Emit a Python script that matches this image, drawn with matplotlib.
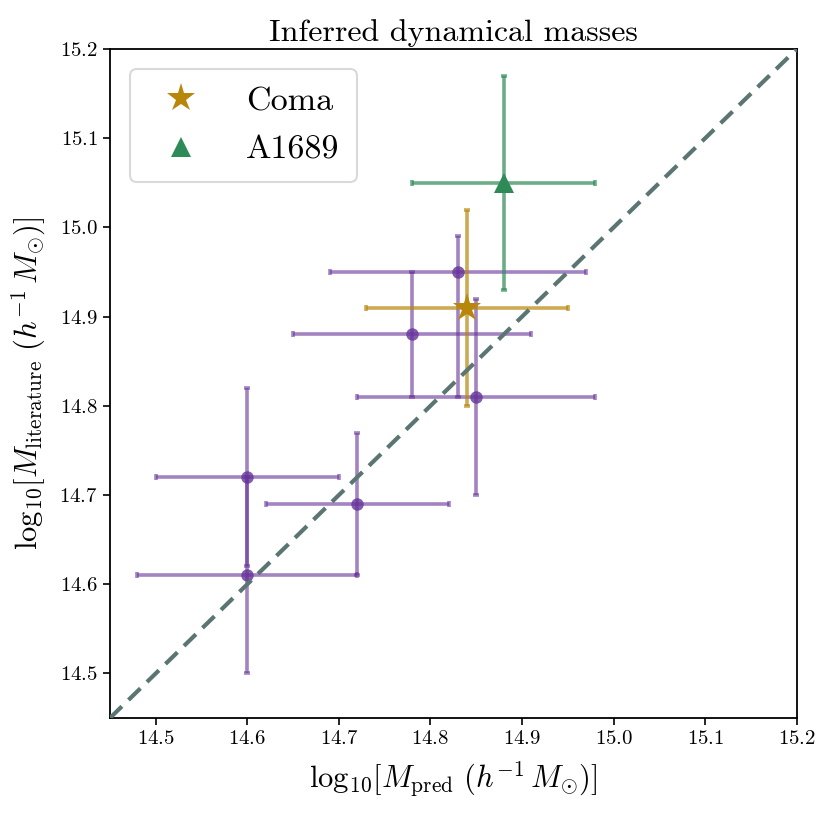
import matplotlib
matplotlib.use("Agg")
import matplotlib.pyplot as plt
import numpy as np

plt.rcParams['font.family'] = 'cmr10'
plt.rcParams['mathtext.fontset'] = 'cm'
plt.rcParams['axes.formatter.use_mathtext'] = True

# Cluster sample (purple)
x_pred = [14.60, 14.60, 14.72, 14.78, 14.83, 14.85]
x_lo = [14.50, 14.48, 14.62, 14.65, 14.69, 14.72]
x_hi = [14.70, 14.72, 14.82, 14.91, 14.97, 14.98]
y_lit = [14.72, 14.61, 14.69, 14.88, 14.95, 14.81]
y_lo = [14.62, 14.50, 14.61, 14.81, 14.81, 14.70]
y_hi = [14.82, 14.72, 14.77, 14.95, 14.99, 14.92]

# Coma
coma_x, coma_xlo, coma_xhi = 14.84, 14.73, 14.95
coma_y, coma_ylo, coma_yhi = 14.91, 14.80, 15.02

# A1689
a_x, a_xlo, a_xhi = 14.88, 14.78, 14.98
a_y, a_ylo, a_yhi = 15.05, 14.93, 15.17

lims = [14.45, 15.2]
ticks = [14.5, 14.6, 14.7, 14.8, 14.9, 15.0, 15.1, 15.2]

fig = plt.figure(figsize=(8.3, 8.22), dpi=100)
ax = fig.add_axes([0.1325, 0.1265, 0.8275, 0.8139])

xp = np.array(x_pred); yp = np.array(y_lit)
xerr = [xp - np.array(x_lo), np.array(x_hi) - xp]
yerr = [yp - np.array(y_lo), np.array(y_hi) - yp]
purple = '#663399'
lw = 2.6
ax.errorbar(xp, yp, xerr=xerr, yerr=yerr, fmt='none', ecolor=purple, alpha=0.6,
            elinewidth=lw, capsize=2, capthick=lw, zorder=2)
ax.plot(xp, yp, 'o', color=purple, alpha=0.8, markersize=9, markeredgewidth=0, zorder=3)

gold = '#b8860b'
ax.errorbar([coma_x], [coma_y], xerr=[[coma_x - coma_xlo], [coma_xhi - coma_x]],
            yerr=[[coma_y - coma_ylo], [coma_yhi - coma_y]], fmt='none', ecolor=gold,
            alpha=0.7, elinewidth=lw, capsize=2, capthick=lw, zorder=2)
ax.plot([coma_x], [coma_y], '*', color=gold, markersize=21, markeredgewidth=0, zorder=4, label='Coma')

green = '#2e8b57'
ax.errorbar([a_x], [a_y], xerr=[[a_x - a_xlo], [a_xhi - a_x]],
            yerr=[[a_y - a_ylo], [a_yhi - a_y]], fmt='none', ecolor=green,
            alpha=0.7, elinewidth=lw, capsize=2, capthick=lw, zorder=2)
ax.plot([a_x], [a_y], '^', color=green, markersize=15, markeredgewidth=0, zorder=4, label='A1689')

ax.plot(lims, lims, '--', color='#5a7572', linewidth=3, dashes=(4, 2.2), zorder=5)

ax.set_xlim(lims)
ax.set_ylim(lims)
ax.set_xticks(ticks)
ax.set_yticks(ticks)
ax.tick_params(labelsize=15, length=5, width=1.2)
for s in ax.spines.values():
    s.set_linewidth(1.3)

ax.set_xlabel(r'$\mathrm{log}_{10}[M_{\mathrm{pred}}\ (h^{-1}\,M_{\odot})]$', fontsize=22, labelpad=8)
ax.set_ylabel(r'$\mathrm{log}_{10}[M_{\mathrm{literature}}\ (h^{-1}\,M_{\odot})]$', fontsize=22, labelpad=8)
ax.set_title('Inferred dynamical masses', fontsize=23, pad=6)

leg = ax.legend(loc='upper left', fontsize=24.5, handletextpad=0.9, borderpad=0.5,
                labelspacing=0.55, frameon=True, borderaxespad=0.6)
leg.get_frame().set_edgecolor('#d0d0d0')
leg.get_frame().set_linewidth(1.5)

fig.savefig('out.png', dpi=100)
